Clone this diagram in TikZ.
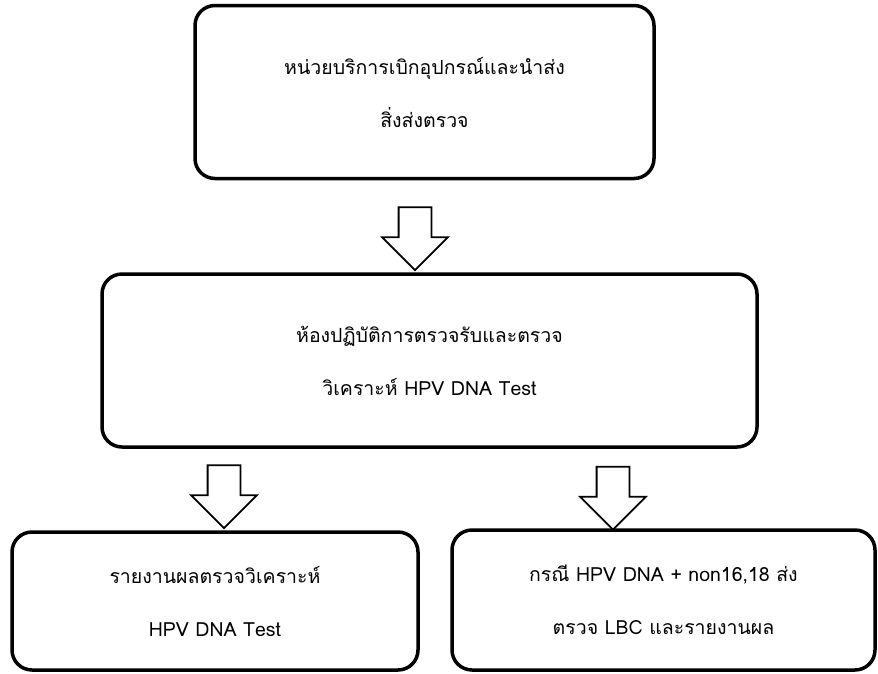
\documentclass[tikz,border=0pt]{standalone}
\usepackage{fontspec}
\newfontfamily\thaifont[Script=Thai]{Loma}
\usetikzlibrary{shapes.arrows}

\tikzset{
  stepbox/.style={shape=rectangle, draw, line width=3.5pt, rounded corners=20pt, align=center, inner sep=0pt},
  downarrow/.style={single arrow, draw, line width=1.8pt, rotate=-90, minimum height=63pt, inner xsep=0pt, inner ysep=15.5pt, single arrow head extend=16.5pt}
}

\begin{document}
\begin{tikzpicture}[x=1pt,y=-1pt,font=\thaifont\fontsize{19.5pt}{53pt}\selectfont]
\useasboundingbox (0,0) rectangle (878,673);

\path (424.5,92) node (unit) [stepbox, minimum width=459pt, minimum height=173pt] {หน่วยบริการเบิกอุปกรณ์และนำส่ง\\สิ่งส่งตรวจ};
\path (429.5,360.5) node (lab) [stepbox, minimum width=655pt, minimum height=173pt] {ห้องปฏิบัติการตรวจรับและตรวจ\\วิเคราะห์ HPV DNA Test};
\path (215,601) node (report) [stepbox, minimum width=406pt, minimum height=138pt] {รายงานผลตรวจวิเคราะห์\\HPV DNA Test};
\path (663.5,600) node (lbc) [stepbox, minimum width=423pt, minimum height=140pt] {กรณี HPV DNA + non16,18 ส่ง\\ตรวจ LBC และรายงานผล};

%block arrows
\path (415,230.5) node (a1) [downarrow] {};
\path (224,488.5) node (a2) [downarrow] {};
\path (613,490) node (a3) [downarrow] {};

\end{tikzpicture}
\end{document}
